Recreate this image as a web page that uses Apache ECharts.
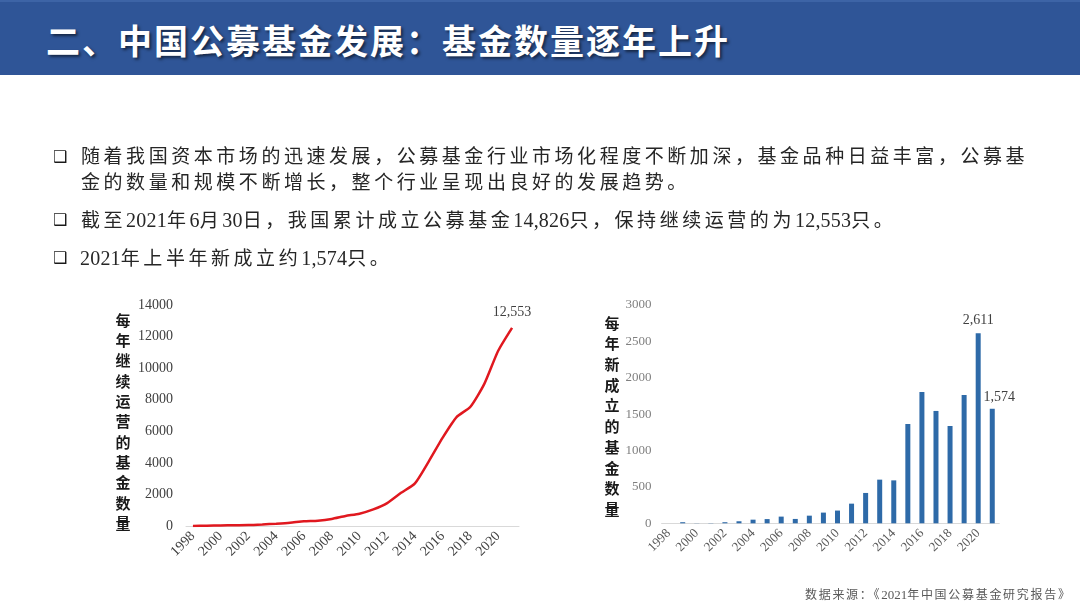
<!DOCTYPE html>
<html><head><meta charset="utf-8">
<script src="https://cdn.jsdelivr.net/npm/echarts@6/dist/echarts.min.js"></script>
<style>
html,body{margin:0;padding:0;width:1080px;height:608px;background:#fff;overflow:hidden;}
#chart{position:absolute;left:0;top:0;width:1080px;height:608px;}
.band{position:absolute;left:0;top:0;width:1080px;height:75px;background:#2F5597;border-top:2px solid #3D64A6;box-sizing:border-box;}
.title{position:absolute;left:46px;top:16px;font-family:'Noto Sans CJK SC';font-weight:700;font-size:34px;letter-spacing:2px;line-height:48px;color:#fff;text-shadow:2px 2px 3px rgba(0,0,0,0.55);white-space:nowrap;}
.bul{position:absolute;left:53px;font-family:'DejaVu Sans';font-size:16px;line-height:26px;color:#1a1a1a;}
.txt{position:absolute;left:81px;font-family:'Liberation Serif','Noto Sans CJK SC';font-size:19px;letter-spacing:3.55px;line-height:26px;color:#262626;white-space:nowrap;}
.n{letter-spacing:0.2px;font-size:20px;}
.src{position:absolute;left:805px;top:586px;font-family:'Liberation Serif','Noto Sans CJK SC';font-size:12px;letter-spacing:1.7px;line-height:18px;color:#595959;white-space:nowrap;}
.src .n{font-size:13px;letter-spacing:0;}
</style>
</head>
<body>
<div id="chart"></div>
<div class="band"></div>
<div class="title">二、中国公募基金发展：基金数量逐年上升</div>
<div class="bul" style="top:144px">❑</div>
<div class="txt" style="top:144px">随着我国资本市场的迅速发展，公募基金行业市场化程度不断加深，基金品种日益丰富，公募基<br>金的数量和规模不断增长，整个行业呈现出良好的发展趋势。</div>
<div class="bul" style="top:207px">❑</div>
<div class="txt" style="top:207px">截至<span class="n">2021</span>年<span class="n">6</span>月<span class="n">30</span>日，我国累计成立公募基金<span class="n">14,826</span>只，保持继续运营的为<span class="n">12,553</span>只。</div>
<div class="bul" style="top:245px">❑</div>
<div class="txt" style="top:245px;left:80px"><span class="n">2021</span>年上半年新成立约<span class="n">1,574</span>只。</div>
<div class="src">数据来源：《<span class="n">2021</span>年中国公募基金研究报告》</div>
<script>
// ---- data ----
const years = ['1998','1999','2000','2001','2002','2003','2004','2005','2006','2007','2008','2009',
               '2010','2011','2012','2013','2014','2015','2016','2017','2018','2019','2020','2021'];
// funds still operating each year
const operatingFunds = [5,20,35,50,60,100,150,210,300,340,450,640,
                        780,1050,1450,2100,2700,4100,5600,6900,7550,9000,11100,12553];
// newly established funds each year
const newFunds = [0,15,2,3,15,28,50,58,92,60,105,147,
                  175,270,417,600,590,1365,1805,1544,1337,1764,2611,1574];
const leftTicks = [0,2000,4000,6000,8000,10000,12000,14000];
const rightTicks = [0,500,1000,1500,2000,2500,3000];
const leftName = '每年继续运营的基金数量';
const rightName = '每年新成立的基金数量';
const leftLabelYears = ['2021'];
const rightLabelYears = ['2020','2021'];

const fmt = v => v.toLocaleString('en-US');
const serif = 'Liberation Serif';

const chart = echarts.init(document.getElementById('chart'));
const lineData = operatingFunds.map((v,i) => leftLabelYears.includes(years[i]) ? {
  value: v, label: {show:true, position:'top', distance:9, formatter: p => fmt(p.value),
    fontFamily: serif, fontSize: 14, color:'#404040'}} : v);
const barData = newFunds.map((v,i) => {
  if (!rightLabelYears.includes(years[i])) return v;
  const last = i === years.length - 1;
  return {value: v, label: {show:true, position:'top', distance: last ? 4 : 6,
    offset: last ? [7,0] : [0,0], formatter: p => fmt(p.value),
    fontFamily: serif, fontSize: 14, color:'#404040'}};
});

const xAxisBase = (color, size) => ({
  type:'category', data: years,
  axisLine:{show:true, lineStyle:{color:'#D9D9D9', width:1}},
  axisTick:{show:false},
  axisLabel:{interval:1, rotate:45, margin:8, fontFamily:serif, fontSize:size, color:color}
});

chart.setOption({
  animation:false,
  grid:[
    {left:186, top:305, width:333, height:221},
    {left:661.6, top:305, width:337.7, height:218.3}
  ],
  xAxis:[
    Object.assign(xAxisBase('#404040',14), {gridIndex:0}),
    Object.assign(xAxisBase('#595959',13), {gridIndex:1})
  ],
  yAxis:[
    {gridIndex:0, type:'value', min:leftTicks[0], max:leftTicks[leftTicks.length-1],
     interval:leftTicks[1]-leftTicks[0], splitLine:{show:false}, axisLine:{show:false}, axisTick:{show:false},
     axisLabel:{margin:13, fontFamily:serif, fontSize:14, color:'#404040', formatter: v => String(v)}},
    {gridIndex:1, type:'value', min:rightTicks[0], max:rightTicks[rightTicks.length-1],
     interval:rightTicks[1]-rightTicks[0], splitLine:{show:false}, axisLine:{show:false}, axisTick:{show:false},
     axisLabel:{margin:10, fontFamily:serif, fontSize:13, color:'#7F7F7F', formatter: v => String(v)}}
  ],
  series:[
    {type:'line', xAxisIndex:0, yAxisIndex:0, data:lineData, smooth:0.2, showSymbol:true, symbol:'circle', symbolSize:0,
     lineStyle:{color:'#E0181F', width:2.5}, itemStyle:{color:'#E0181F'}},
    {type:'bar', xAxisIndex:1, yAxisIndex:1, data:barData, barWidth:5,
     itemStyle:{color:'#2E6AA8'}}
  ],
  graphic:[
    {type:'text', style:{text: leftName.split('').join('\n'), x:123, y:310, textAlign:'center',
      textVerticalAlign:'top', lineHeight:20.3, font:'bold 15px "Noto Sans CJK SC"', fill:'#1a1a1a'}},
    {type:'text', style:{text: rightName.split('').join('\n'), x:612, y:312.6, textAlign:'center',
      textVerticalAlign:'top', lineHeight:20.7, font:'bold 15px "Noto Sans CJK SC"', fill:'#1a1a1a'}}
  ]
});
</script>
</body></html>
